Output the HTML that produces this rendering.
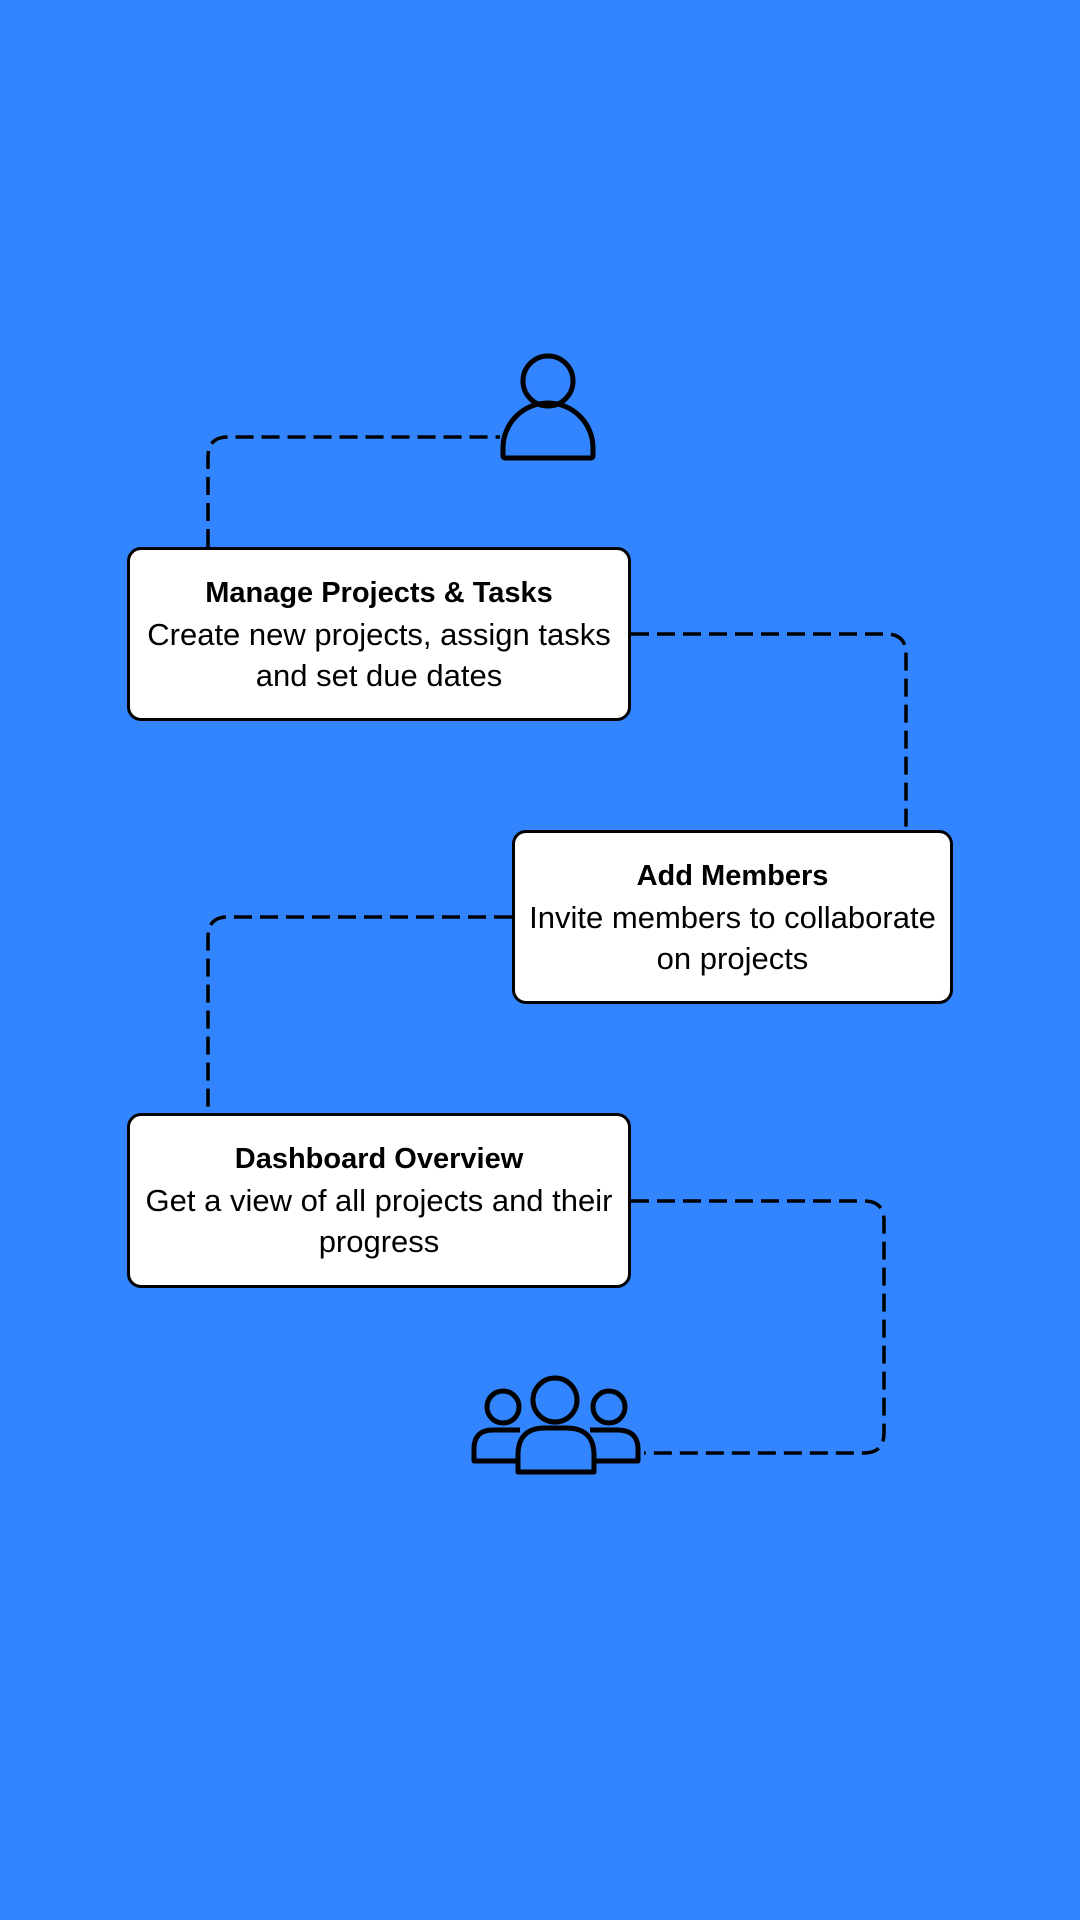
<!DOCTYPE html>
<html><head><meta charset="utf-8"><style>
html,body{margin:0;padding:0;}
body{width:1080px;height:1920px;background:#3385ff;position:relative;overflow:hidden;font-family:"Liberation Sans","DejaVu Sans",sans-serif;}
.box{position:absolute;background:#fff;border:3.5px solid #000;border-radius:14px;box-sizing:border-box;text-align:center;color:#000;display:flex;flex-direction:column;justify-content:center;white-space:nowrap;}
.t{font-weight:bold;font-size:29px;line-height:41px;}
.d{font-size:31px;line-height:41px;}
svg{position:absolute;left:0;top:0;}
</style></head><body>
<svg width="1080" height="1920" viewBox="0 0 1080 1920">
<g fill="none" stroke="#000" stroke-width="3.5" stroke-dasharray="18,8">
<path d="M208 547 V457 Q208 437 228 437 H500"/>
<path d="M631 634 H886 Q906 634 906 654 V830"/>
<path d="M512 917 H228 Q208 917 208 937 V1113"/>
<path d="M631 1201 H864 Q884 1201 884 1221 V1433 Q884 1453 864 1453 H644"/>
</g>
<g fill="none" stroke="#000" stroke-width="5" stroke-linejoin="round">
<circle cx="548" cy="381" r="25"/>
<path d="M503 456 V448 A45 45 0 0 1 593 448 V456 Q593 458 590 458 H506 Q503 458 503 456 Z"/>
<circle cx="555" cy="1400" r="22"/>
<path d="M518 1472 V1455 Q518 1428 545 1428 H566 Q594 1428 594 1455 V1472 Z"/>
<circle cx="503" cy="1407" r="16"/>
<circle cx="609" cy="1407" r="16"/>
<path d="M520 1430 H493 Q474 1430 474 1449 V1461 H518"/>
<path d="M590 1430 H617 Q638 1430 638 1449 V1461 H594"/>
</g>
</svg>
<div class="box" style="left:127px;top:547px;width:504px;height:174px;"><div class="t">Manage Projects &amp; Tasks</div><div class="d">Create new projects, assign tasks<br>and set due dates</div></div>
<div class="box" style="left:512px;top:830px;width:441px;height:174px;"><div class="t">Add Members</div><div class="d">Invite members to collaborate<br>on projects</div></div>
<div class="box" style="left:127px;top:1113px;width:504px;height:175px;"><div class="t">Dashboard Overview</div><div class="d">Get a view of all projects and their<br>progress</div></div>
</body></html>
